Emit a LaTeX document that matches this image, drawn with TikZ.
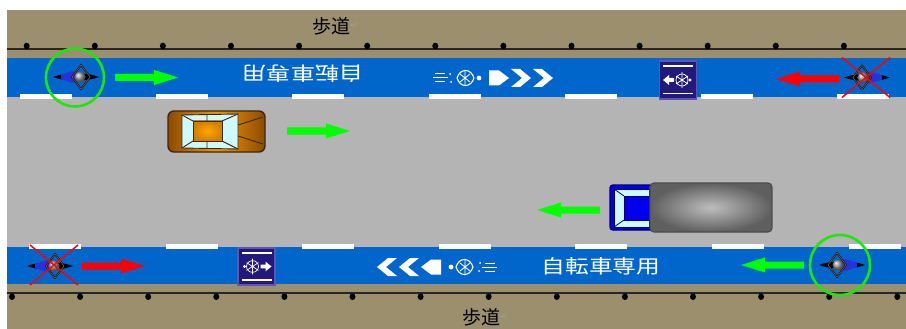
\documentclass[tikz,border=0pt]{standalone}
\usepackage{fontspec}
\newfontfamily\jpfont{Noto Sans CJK JP}
\newfontfamily\symfont{DejaVu Sans}
\definecolor{walk}{RGB}{155,143,110}
\definecolor{lane}{RGB}{0,102,204}
\definecolor{asphalt}{RGB}{180,180,180}
\definecolor{go}{RGB}{0,255,0}
\definecolor{ring}{RGB}{30,230,10}
\definecolor{stop}{RGB}{255,0,0}
\definecolor{riderblue}{RGB}{40,50,220}
\definecolor{framebrown}{RGB}{150,100,40}
\definecolor{signnavy}{RGB}{35,25,125}
\definecolor{signedge}{RGB}{95,85,175}
\definecolor{carorange}{RGB}{245,150,0}
\definecolor{carbrown}{RGB}{140,75,0}
\definecolor{cardark}{RGB}{60,40,15}
\definecolor{glass}{RGB}{205,250,255}
\definecolor{truckblue}{RGB}{0,0,235}
\definecolor{navy}{RGB}{0,0,110}
\definecolor{trailerlight}{RGB}{190,190,190}
\definecolor{trailerdark}{RGB}{95,95,95}
\definecolor{markgray}{RGB}{160,160,160}
\tikzset{
  % block arrow pointing right, tail at the origin
  pics/dirarrow/.style={code={
    \fill[pic actions] (0,-3.5) -- (39,-3.5) -- (39,-7.5) -- (63,0)
      -- (39,7.5) -- (39,3.5) -- (0,3.5) -- cycle;}},
  % motorcycle seen from above, heading right
  pics/moto/.style={code={
    \fill[black] (-23,0) .. controls (-12,-4.6) and (12,-4.6) .. (23,0)
      .. controls (12,4.6) and (-12,4.6) .. (-23,0) -- cycle;
    \fill[riderblue] (-15,-2) -- (-4,-5.8) -- (1,-5) -- (1,5) -- (-4,5.8) -- (-15,2) -- cycle;
    \draw[black, line width=1.6, line join=round] (-4,0) -- (5,-12) -- (14,0) -- (5,12) -- cycle;
    \draw[framebrown, line width=0.6, line join=round] (-4,0) -- (5,-12) -- (14,0) -- (5,12) -- cycle;
    \shade[ball color=gray!80] (4,0) circle (5.5pt);}},
  % red cross over a forbidden rider
  pics/nocross/.style={code={
    \draw[stop, line width=1.5] (-24,-20) -- (24,20) (24,-20) -- (-24,20);}},
  % lane sign with a bicycle and an arrow pointing left
  pics/lanesign/.style={code={
    \draw[fill=signnavy, draw=signedge, line width=1.6] (-18.5,-19) rectangle (18.5,19);
    \fill[white] (-15,-14.5) rectangle (15,-12.8);
    \fill[white] (-15,12.8) rectangle (15,14.5);
    \fill[white] (-15,0) -- (-9,-5) -- (-9,-2) -- (-4,-2) -- (-4,2) -- (-9,2) -- (-9,5) -- cycle;
    \draw[white, line width=0.7] (4,0) circle (6pt);
    \draw[white, line width=0.7] (-2,-4) -- (10,4) (-2,4) -- (10,-4) (4,-8) -- (4,8);
    \fill[white] (12,0) circle (1.6pt);}},
  % painted bicycle mark with chevrons, heading right
  pics/cyclemark/.style={code={
    \draw[white, line width=1] (2,-4) -- (12,-4) (0,0) -- (15,0) (2,4) -- (12,4);
    \fill[white] (17,-4) circle (1pt) (18,4) circle (1pt);
    \draw[white, line width=1.1] (24,0) .. controls (27,-10) and (38,-10) .. (41,0)
      .. controls (38,10) and (27,10) .. (24,0);
    \draw[white, line width=0.8] (32,-8) -- (32,8) (27,-4) -- (37,4) (27,4) -- (37,-4);
    \fill[white] (46,0) circle (2.4pt);
    \fill[white] (56,-7.5) -- (66,-7.5) -- (76,0) -- (66,7.5) -- (56,7.5) -- cycle;
    \foreach \a in {78,100}
      \fill[white] (\a,-9) -- (\a+9,-9) -- (\a+20,0) -- (\a+9,9) -- (\a,9) -- (\a+11,0) -- cycle;}},
  walktext/.style={font=\jpfont\fontsize{19}{19}\selectfont, inner sep=0pt},
  lanetext/.style={font=\jpfont\fontsize{19}{19}\selectfont, text=white, inner sep=0pt},
  returnmark/.style={font=\symfont\fontsize{9}{9}\selectfont, text=markgray, inner sep=0pt},
  post/.style={fill=black},
  lanedash/.style={fill=white},
  ringmark/.style={draw=ring, line width=2.6},
}
\begin{document}
\begin{tikzpicture}[x=1pt,y=-1pt]
\useasboundingbox (0,0) rectangle (906,329);
\fill[white] (0,0) rectangle (906,329);

% sidewalks, bike lanes and carriageway
\fill[walk] (7,10) rectangle (906,58);
\fill[lane] (7,58) rectangle (906,97);
\fill[asphalt] (7,97) rectangle (906,247);
\fill[lane] (7,247) rectangle (906,284);
\fill[walk] (7,284) rectangle (906,329);

% kerb lines with posts
\fill[black!85] (7,48.4) rectangle (906,50.4);
\foreach \k in {0,...,12}
  \fill[post] (26.7+68.1*\k,46) ellipse (3pt and 3.3pt);
\fill[black!85] (7,291.7) rectangle (906,293.7);
\foreach \k in {0,...,13}
  \fill[post] (12+68.1*\k,296.7) ellipse (3pt and 3.3pt);

% lane dividing dashes
\foreach \k in {0,...,6}
  \fill[lanedash] (20+136.2*\k,94) rectangle +(52,5);
\foreach \k in {0,...,6}
  \fill[lanedash] (29+136.6*\k,244) rectangle +(52,5);

% sidewalk labels
\node[walktext] (walkN) at (331,26) {歩道};
\node[returnmark, anchor=west] (retN) at (walkN.east) {↵};
\node[walktext] (walkS) at (481,317) {歩道};
\node[returnmark, anchor=west] (retS) at (walkS.east) {↵};

% lane lettering
\node[lanetext, rotate=180, xscale=1.27] (laneN) at (303,73.5) {自転車専用};
\node[lanetext, xscale=1.25] (laneS) at (601,266) {自転車専用};

% painted bicycle marks
\pic at (433,78) {cyclemark};
\pic[xscale=-1] at (497,267) {cyclemark};

% lane signs
\pic at (678,80) {lanesign};
\pic[xscale=-1, yscale=0.97] at (256.5,266.5) {lanesign};

% riders in the northern lane
\pic at (76,77) {moto};
\draw[ringmark] (75,77.5) circle (29pt);
\pic[fill=go] at (115,77.5) {dirarrow};
\pic[xscale=-1] at (867,77.5) {moto};
\pic at (866,77.5) {nocross};
\pic[fill=stop, xscale=-1] at (839,79) {dirarrow};

% riders in the southern lane
\pic at (50,266) {moto};
\pic at (54,265) {nocross};
\pic[fill=stop] at (82,266) {dirarrow};
\pic[xscale=-1] at (842,265) {moto};
\draw[ringmark] (840,265) circle (30pt);
\pic[fill=go, xscale=-1] at (804,265) {dirarrow};

% car heading east
\shade[left color=carbrown, right color=carbrown, middle color=carorange, rounded corners=6pt]
  (168,111) rectangle (265,152);
\draw[cardark, line width=1.4, rounded corners=6pt] (168,111) rectangle (265,152);
\filldraw[fill=glass, draw=cardark, line width=0.9] (182,115) -- (238,114) -- (238,149) -- (182,148) -- cycle;
\shade[inner color=orange!70!yellow, outer color=carorange!85!black] (193,121) rectangle (222,141);
\draw[cardark, line width=0.9] (193,121) rectangle (222,141);
\draw[cardark, line width=0.9] (193,121) -- (182,115) (222,121) -- (238,114)
  (222,141) -- (238,149) (193,141) -- (182,148)
  (207,114.5) -- (207,121) (207,141) -- (207,148.5)
  (238,125) -- (263,117) (238,136) -- (263,144);
\pic[fill=go] at (287,131) {dirarrow};

% lorry heading west
\draw[fill=truckblue, draw=navy, line width=1.4, rounded corners=3pt] (610,185) rectangle (653,230);
\filldraw[fill=glass, draw=navy, line width=0.8] (614,189) -- (649,189) -- (649,196) -- (624,196)
  -- (624,220) -- (649,220) -- (649,227) -- (614,227) -- cycle;
\draw[navy, line width=0.8] (614,189) -- (624,196) (614,227) -- (624,220);
\shade[inner color=trailerlight, outer color=trailerdark, rounded corners=4pt] (650,183) rectangle (772,232);
\draw[black!70, line width=1.2, rounded corners=4pt] (650,183) rectangle (772,232);
\pic[fill=go, xscale=-1] at (600,210) {dirarrow};
\end{tikzpicture}
\end{document}
